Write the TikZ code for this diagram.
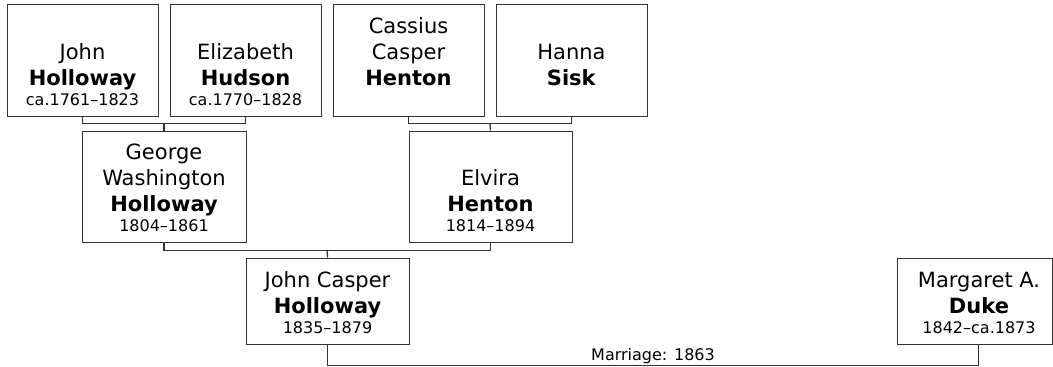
\documentclass[tikz,border=0pt]{standalone}
\usepackage{fontspec}
\setmainfont{DejaVu Sans}
\usetikzlibrary{calc}
\newcommand\personbox[4]{\parbox[b]{#1}{\centering\fontsize{21}{26}\selectfont #2\par\textbf{#3}\par\fontsize{16}{20}\selectfont #4\rule[-11pt]{0pt}{11pt}\par}}
\tikzset{
  person/.style={draw=black!80, line width=1pt, fill=white, inner sep=0pt, rectangle, text depth=11pt},
  conn/.style={draw=black!80, line width=1.3pt},
  lbl/.style={font=\fontsize{16}{20}\selectfont, inner sep=0pt, anchor=base}
}
\begin{document}
\begin{tikzpicture}[x=1pt,y=-1pt]
\useasboundingbox (0,0) rectangle (1053,367);
% generation 1
\node[person, text height=101pt] (jh) at (82.5,60) {\personbox{151pt}{John}{Holloway}{ca.1761\textendash1823}};
\node[person, text height=101pt] (eh) at (245.5,60) {\personbox{151pt}{Elizabeth}{Hudson}{ca.1770\textendash1828}};
\node[person, text height=101pt] (cc) at (408.5,60) {\personbox{151pt}{Cassius\\Casper}{Henton}{}};
\node[person, text height=101pt] (hs) at (571.5,60) {\personbox{151pt}{Hanna}{Sisk}{}};
% generation 2
\node[person, text height=100pt] (gw) at (164,186.5) {\personbox{164pt}{George\\Washington}{Holloway}{1804\textendash1861}};
\node[person, text height=100pt] (ev) at (490.5,186.5) {\personbox{163pt}{Elvira}{Henton}{1814\textendash1894}};
% generation 3
\node[person, text height=75pt] (jc) at (327.5,301) {\personbox{163pt}{John Casper}{Holloway}{1835\textendash1879}};
\node[person, text height=75pt] (md) at (974.5,301) {\personbox{164pt}{Margaret A.}{Duke}{1842\textendash ca.1873}\kern-9pt};
% connectors
\coordinate (b1) at ($(jh.south)!0.5!(eh.south)+(0,7)$);
\draw[conn] (jh.south) -- ++(0,7) -| (eh.south);
\draw[conn] (b1) -- (gw.north);
\coordinate (b2) at ($(cc.south)!0.5!(hs.south)+(0,7)$);
\draw[conn] (cc.south) -- ++(0,7) -| (hs.south);
\draw[conn] (b2) -- (ev.north);
\coordinate (b3) at ($(gw.south)!0.5!(ev.south)+(0,8)$);
\draw[conn] (gw.south) -- ++(0,8) -| (ev.south);
\draw[conn] (b3) -- (jc.north);
\coordinate (mdc) at ($(md.south west)+(82,0)$);
\coordinate (m1) at ($(jc.south)+(0,21)$);
\coordinate (m2) at (mdc |- m1);
\draw[conn] (jc.south) -- (m1) -- (m2) -- (mdc);
\node[lbl] (mlabel) at ($(m1)!0.5!(m2)+(0,-5)$) {Marriage: 1863};
\end{tikzpicture}
\end{document}
